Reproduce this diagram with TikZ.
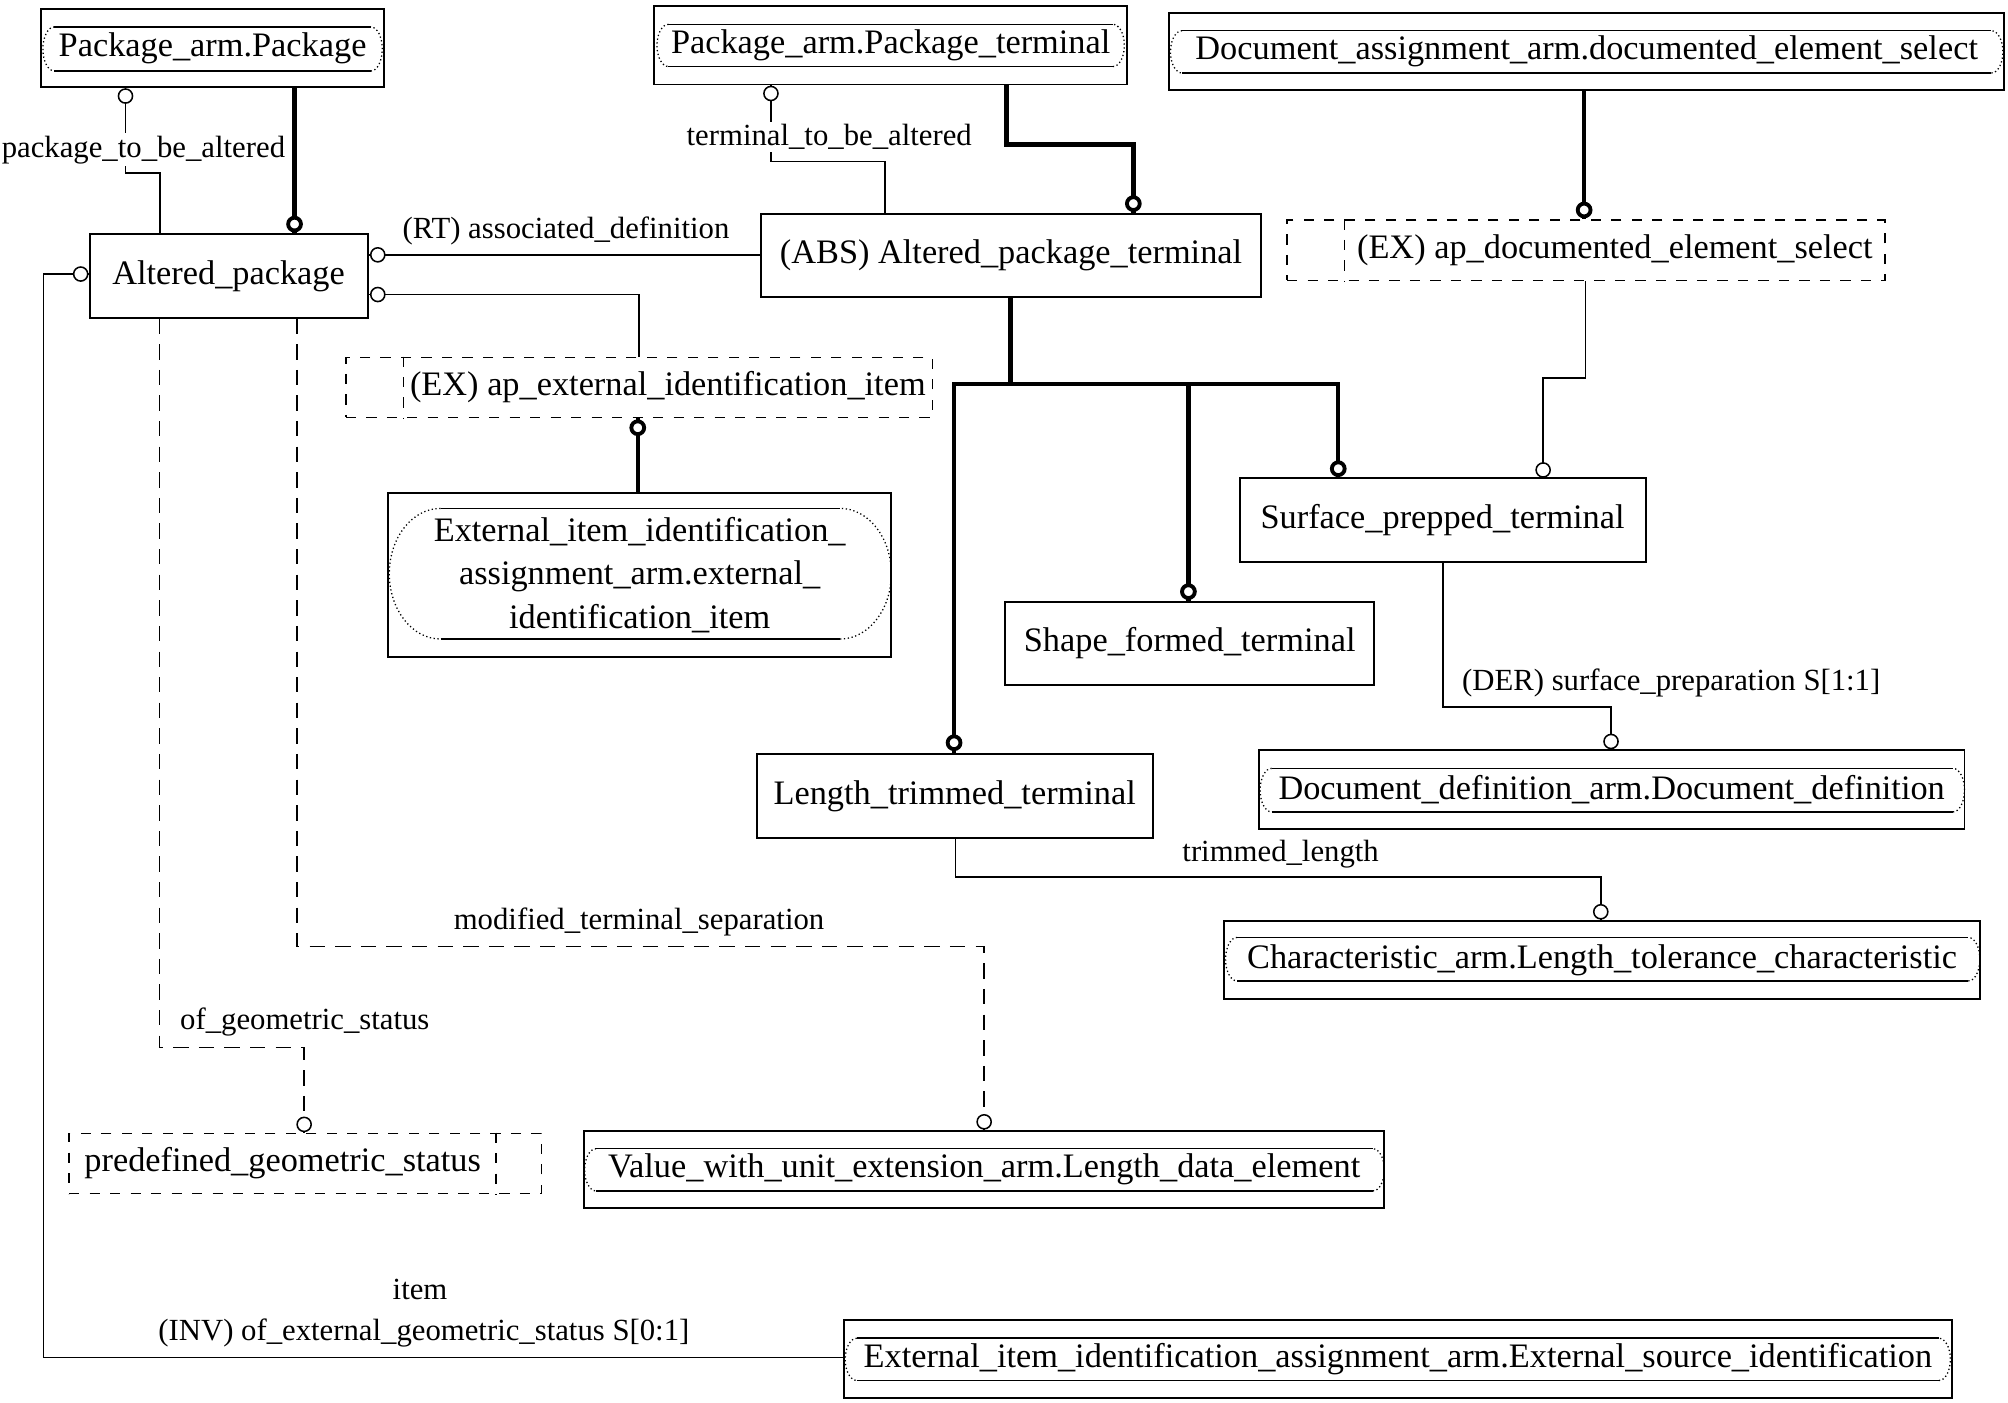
\documentclass[tikz,border=0pt]{standalone}
\usepackage{fontspec}
\setmainfont{Liberation Serif}
\usetikzlibrary{calc}
\tikzset{
  ent/.style={draw, line width=0.75pt, inner sep=0pt, align=center,
    font=\fontsize{13.4}{17}\selectfont},
  exbox/.style={draw, line width=0.6pt, dash pattern=on 4pt off 4pt, inner sep=0pt,
    label font/.style={}},
  exline/.style={line width=0.6pt, dash pattern=on 4pt off 4pt},
  extext/.style={font=\fontsize{13.4}{17}\selectfont, inner sep=0pt},
  conn/.style={line width=0.65pt},
  thickconn/.style={line width=1.75pt},
  dconn/.style={line width=0.65pt, dash pattern=on 6pt off 4pt},
  lbl/.style={font=\fontsize{12}{14}\selectfont, inner sep=1pt},
  wlbl/.style={lbl, fill=white},
  oc/.style={circle, draw, fill=white, line width=0.6pt, minimum size=5.5pt, inner sep=0pt},
  toc/.style={circle, draw, fill=white, line width=1.5pt, minimum size=5pt, inner sep=0pt},
  pillline/.style={line width=0.6pt},
  pillend/.style={line width=0.5pt, densely dotted},
}
\newcommand\pillshape[5]{%
  \draw[pillline] (#1+#5,#2) -- (#3-#5,#2);
  \draw[pillline] (#1+#5,#4) -- (#3-#5,#4);
  \draw[pillend] (#1+#5,#2) arc[start angle=90,end angle=270,x radius={#5*0.5pt},y radius={(#4-#2)*0.25pt}];
  \draw[pillend] (#3-#5,#4) arc[start angle=270,end angle=450,x radius={#5*0.5pt},y radius={(#4-#2)*0.25pt}];
}
\begin{document}
\begin{tikzpicture}[x=0.5pt,y=-0.5pt]
\useasboundingbox[fill=white] (0,0) rectangle (1568,1095);

% entity boxes
\node[ent, minimum width=134pt, minimum height=30.5pt] (pkg) at (166,37.5) {Package\_arm.Package};
\pillshape{33.5}{21}{298.5}{55.5}{9}
\node[ent, minimum width=184.5pt, minimum height=30.5pt] (pkgterm) at (695.5,35.5) {Package\_arm.Package\_terminal};
\pillshape{513}{19}{878}{52}{9}
\node[ent, minimum width=326pt, minimum height=30pt] (docsel) at (1239,40) {Document\_assignment\_arm.documented\_element\_select};
\pillshape{914}{24}{1564}{57}{9}
\node[ent, minimum width=108.5pt, minimum height=32.5pt] (altpkg) at (178.5,215.5) {Altered\_package};
\node[ent, minimum width=195.5pt, minimum height=32.5pt] (absterm) at (789.5,199.5) {(ABS) Altered\_package\_terminal};
\node[exbox, minimum width=233.5pt, minimum height=23.5pt,
  label={[extext, shift={(22.5,0)}]center:(EX) ap\_documented\_element\_select}] (exdoc) at (1238.5,195.5) {};
\draw[exline] (1050,0 |- exdoc.north) -- (1050,0 |- exdoc.south);
\node[exbox, minimum width=229pt, minimum height=23.5pt,
  label={[extext, shift={(22.5,0)}]center:(EX) ap\_external\_identification\_item}] (exext) at (499,302.5) {};
\draw[exline] (315,0 |- exext.north) -- (315,0 |- exext.south);
\node[ent, minimum width=196.5pt, minimum height=64pt] (extitem) at (499.5,449) {External\_item\_identification\_\\assignment\_arm.external\_\\identification\_item};
\pillshape{304}{397}{696}{499}{40}
\node[ent, minimum width=158.5pt, minimum height=32.5pt] (surf) at (1126.5,406) {Surface\_prepped\_terminal};
\node[ent, minimum width=144pt, minimum height=32.5pt] (shape) at (929,502.5) {Shape\_formed\_terminal};
\node[ent, minimum width=154.5pt, minimum height=33pt] (lentrim) at (745.5,621.5) {Length\_trimmed\_terminal};
\node[ent, minimum width=275.5pt, minimum height=30.5pt] (docdef) at (1258.5,616.5) {Document\_definition\_arm.Document\_definition};
\pillshape{984}{600}{1534}{634}{9}
\node[ent, minimum width=295pt, minimum height=30.5pt] (chartol) at (1251,749.5) {Characteristic\_arm.Length\_tolerance\_characteristic};
\pillshape{957}{732}{1546}{766}{9}
\node[exbox, minimum width=184.5pt, minimum height=23.5pt,
  label={[extext, shift={(-17.75,0)}]center:predefined\_geometric\_status}] (predef) at (238.5,908.5) {};
\draw[exline] (387.5,0 |- predef.north) -- (387.5,0 |- predef.south);
\node[ent, minimum width=312.5pt, minimum height=30pt] (valunit) at (768.5,913) {Value\_with\_unit\_extension\_arm.Length\_data\_element};
\pillshape{456.5}{897}{1081}{930}{9}
\node[ent, minimum width=432.5pt, minimum height=30.5pt] (extsrc) at (1091.5,1061.5) {External\_item\_identification\_assignment\_arm.External\_source\_identification};
\pillshape{660}{1045}{1523}{1078}{9}

% connectors
\draw[thickconn] (230,0 |- pkg.south) -- (230,0 |- altpkg.north);
\node[toc] (c1) at (230,175) {};

\draw[conn] (98,0 |- pkg.south) -- (98,135) -- (125,135) -- (125,0 |- altpkg.north);
\node[oc] (c2) at (98,75) {};
\node[wlbl] (l1) at (112,117) {package\_to\_be\_altered};

\draw[conn] (602,0 |- pkgterm.south) -- (602,126) -- (691,126) -- (691,0 |- absterm.north);
\node[oc] (c3) at (602,73) {};
\node[wlbl] (l2) at (647.5,107) {terminal\_to\_be\_altered};

\draw[thickconn] (786,0 |- pkgterm.south) -- (786,113) -- (885,113) -- (885,0 |- absterm.north);
\node[toc] (c4) at (885,159) {};

\draw[thickconn] (1237,0 |- docsel.south) -- (1237,0 |- exdoc.north);
\node[toc] (c5) at (1237,164) {};

\draw[conn] (1238,0 |- exdoc.south) -- (1238,295) -- (1205,295) -- (1205,0 |- surf.north);
\node[oc] (c6) at (1205,367) {};

\draw[conn] (absterm.west |- 0,199) -- (altpkg.east |- 0,199);
\node[oc] (c7) at (295,199) {};
\node[lbl] (l3) at (442,180) {(RT) associated\_definition};

\draw[conn] (altpkg.east |- 0,230) -- (499,230) -- (499,0 |- exext.north);
\node[oc] (c8) at (295,230) {};

\draw[thickconn] (498,0 |- exext.south) -- (498,0 |- extitem.north);
\node[toc] (c9) at (498,334) {};

\draw[thickconn] (789,0 |- absterm.south) -- (789,300);
\draw[thickconn] (745,0 |- lentrim.north) -- (745,300) -- (1045,300) -- (1045,0 |- surf.north);
\draw[thickconn] (928,300) -- (928,0 |- shape.north);
\node[toc] (c10) at (745,580) {};
\node[toc] (c11) at (928,462) {};
\node[toc] (c12) at (1045,366) {};

\draw[conn] (1127,0 |- surf.south) -- (1127,552) -- (1258,552) -- (1258,0 |- docdef.north);
\node[oc] (c13) at (1258,579) {};
\node[lbl] (l4) at (1305,533) {(DER) surface\_preparation S[1:1]};

\draw[conn] (746,0 |- lentrim.south) -- (746,685) -- (1250,685) -- (1250,0 |- chartol.north);
\node[oc] (c14) at (1250,712) {};
\node[lbl] (l5) at (1000,667) {trimmed\_length};

\draw[dconn] (232,0 |- altpkg.south) -- (232,739) -- (768.5,739) -- (768.5,0 |- valunit.north);
\node[oc] (c15) at (768.5,876) {};
\node[lbl] (l6) at (499,720) {modified\_terminal\_separation};

\draw[dconn] (124.5,0 |- altpkg.south) -- (124.5,818) -- (237.5,818) -- (237.5,0 |- predef.north);
\node[oc] (c16) at (237.5,878) {};
\node[lbl] (l7) at (238,798) {of\_geometric\_status};

\draw[conn] (extsrc.west |- 0,1060) -- (34,1060) -- (34,214) -- (altpkg.west |- 0,214);
\node[oc] (c17) at (63,214) {};
\node[lbl] (l8) at (328,1007) {item};
\node[lbl] (l9) at (331,1041) {(INV) of\_external\_geometric\_status S[0:1]};
\end{tikzpicture}
\end{document}
